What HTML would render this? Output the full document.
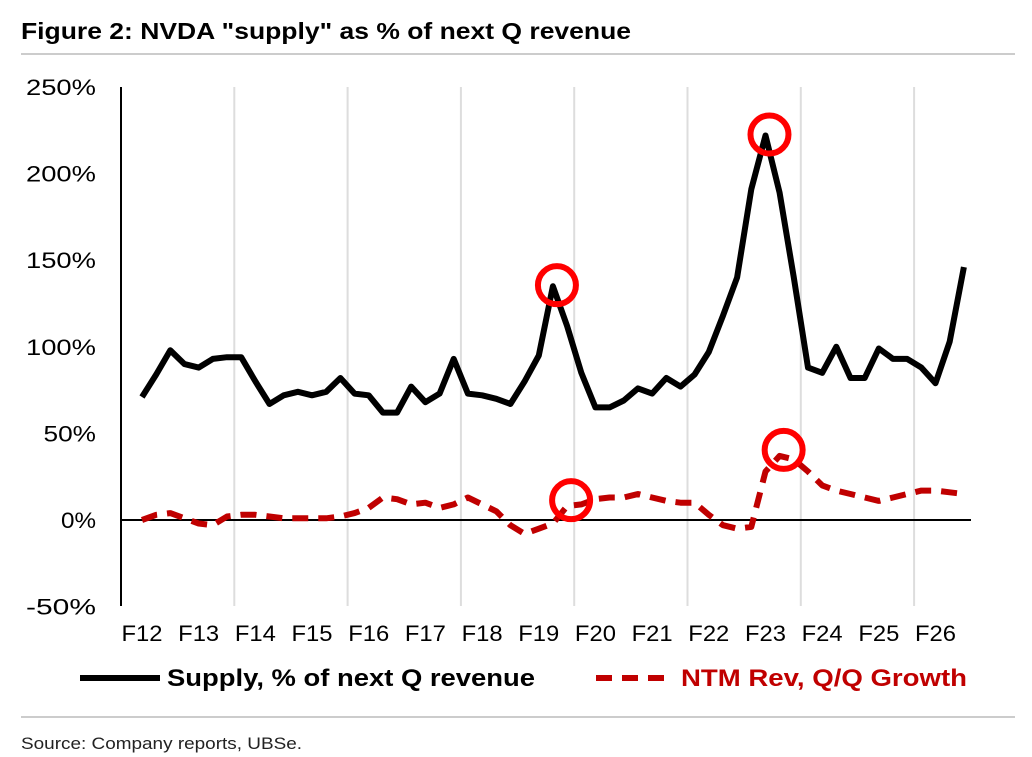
<!DOCTYPE html>
<html><head><meta charset="utf-8"><style>
body{margin:0;background:#fff;font-family:"Liberation Sans",sans-serif;}
svg{display:block}
</style></head><body>
<svg width="1032" height="757" viewBox="0 0 1032 757">
<text x="21" y="39" font-size="23" font-weight="bold" fill="#000" textLength="610" lengthAdjust="spacingAndGlyphs">Figure 2: NVDA "supply" as % of next Q revenue</text>
<line x1="21" y1="54" x2="1015" y2="54" stroke="#ccc" stroke-width="2"/>
<g id="grid"></g>
<g id="yticks"></g>
<g id="xticks"></g>
<line x1="121" y1="87" x2="121" y2="606" stroke="#000" stroke-width="2"/>
<line x1="121" y1="520" x2="971" y2="520" stroke="#000" stroke-width="2"/>
<g id="series"></g>
<g>
<line x1="80" y1="678" x2="160" y2="678" stroke="#000" stroke-width="6"/>
<text x="167" y="686" font-size="24" font-weight="bold" textLength="368" lengthAdjust="spacingAndGlyphs">Supply, % of next Q revenue</text>
<line x1="596" y1="678" x2="668" y2="678" stroke="#c00000" stroke-width="6" stroke-dasharray="16,10"/>
<text x="681" y="686" font-size="24" font-weight="bold" fill="#c00000" textLength="286" lengthAdjust="spacingAndGlyphs">NTM Rev, Q/Q Growth</text>
</g>
<line x1="21" y1="717" x2="1015" y2="717" stroke="#ccc" stroke-width="2"/>
<text x="21" y="749" font-size="17" fill="#222" textLength="281" lengthAdjust="spacingAndGlyphs">Source: Company reports, UBSe.</text>
</svg>
<script>
const supply=[71,84,98,90,88,93,94,94,80,67,72,74,72,74,82,73,72,62,62,77,68,73,93,73,72,70,67,80,95,135,112,85,65,65,69,76,73,82,77,84,97,118,140,191,222,189,140,88,85,100,82,82,99,93,93,88,79,103,146];
const ntmGrowth=[0,3,4,1,-2,-3,2,3,3,2,1,1,1,1,2,4,7,13,12,9,10,7,9,13,9,5,-3,-8,-5,-2,8,9,12,13,13,15,13,11,10,10,3,-3,-5,-4,28,37,35,28,20,17,15,13,11,13,15,17,17,16,15];
const yTicks=[250,200,150,100,50,0,-50];
const xLabels=["F12","F13","F14","F15","F16","F17","F18","F19","F20","F21","F22","F23","F24","F25","F26"];
const highlightSupply=[29,44];
const highlightNtm=[30,45];
const NS="http://www.w3.org/2000/svg";
function X(i){return 142+i*14.17;}
function Y(v){return 520-v*1.732;}
function mk(tag,attrs,parent){const e=document.createElementNS(NS,tag);for(const k in attrs)e.setAttribute(k,attrs[k]);parent.appendChild(e);return e;}
const grid=document.getElementById('grid'),yt=document.getElementById('yticks'),xt=document.getElementById('xticks'),ser=document.getElementById('series');
for(let k=1;k<=7;k++){const x=121+k*113.3;
const l=mk('line',{x1:x,y1:87,x2:x,y2:606,stroke:'#ddd','stroke-width':2},grid);

}
yTicks.forEach(v=>{const s=v+'%';const t=mk('text',{x:96,y:Y(v)+8,'font-size':22,'text-anchor':'end',textLength:s.length*17.5,lengthAdjust:'spacingAndGlyphs'},yt);t.textContent=s;

});
xLabels.forEach((s,k)=>{const t=mk('text',{x:142+k*56.68,y:641,'font-size':22,'text-anchor':'middle',textLength:41,lengthAdjust:'spacingAndGlyphs'},xt);t.textContent=s;

});
const pts=a=>a.map((v,i)=>X(i).toFixed(1)+','+Y(v).toFixed(1)).join(' ');
const rl=mk('polyline',{points:pts(ntmGrowth),fill:'none',stroke:'#c00000','stroke-width':6,'stroke-dasharray':'16,10','stroke-linejoin':'round'},ser);


const bl=mk('polyline',{points:pts(supply),fill:'none',stroke:'#000','stroke-width':6,'stroke-linejoin':'round'},ser);


highlightSupply.forEach(i=>{const c=mk('circle',{cx:X(i)+4,cy:Y(supply[i])-1,r:19,fill:'none',stroke:'#f00','stroke-width':6},ser);

});
highlightNtm.forEach(i=>{const c=mk('circle',{cx:X(i)+4,cy:Y(ntmGrowth[i])-6,r:19,fill:'none',stroke:'#f00','stroke-width':6},ser);

});
</script>
</body></html>
